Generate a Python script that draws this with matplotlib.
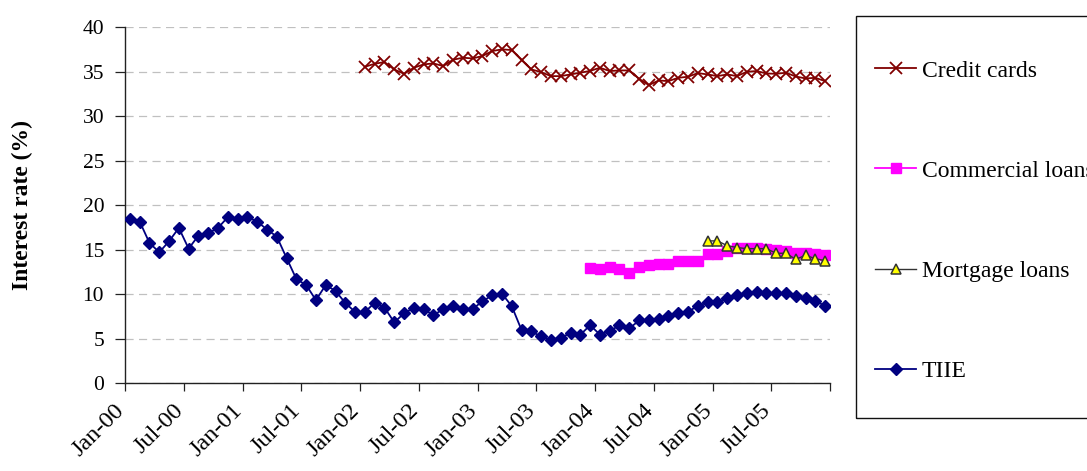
import matplotlib
matplotlib.use("Agg")
import matplotlib.pyplot as plt
from matplotlib.patches import Rectangle
from matplotlib.transforms import ScaledTranslation

plt.rcParams['font.family'] = ['Liberation Serif', 'DejaVu Serif']

# Monthly categories, Jan-2000 .. Dec-2005
month_names = ['Jan', 'Feb', 'Mar', 'Apr', 'May', 'Jun',
               'Jul', 'Aug', 'Sep', 'Oct', 'Nov', 'Dec']
years = ['00', '01', '02', '03', '04', '05']
months = [f"{m}-{y}" for y in years for m in month_names]

tick_labels = ['Jan-00', 'Jul-00', 'Jan-01', 'Jul-01', 'Jan-02', 'Jul-02',
               'Jan-03', 'Jul-03', 'Jan-04', 'Jul-04', 'Jan-05', 'Jul-05']

# Interest rates (%)
tiie = [18.46, 18.16, 15.75, 14.70, 15.94, 17.44, 15.11, 16.58, 16.84, 17.44,
        18.65, 18.46, 18.65, 18.16, 17.26, 16.47, 14.06, 11.69, 11.02, 9.32,
        11.02, 10.35, 9.00, 7.99, 7.99, 9.02, 8.48, 6.82, 7.84, 8.45,
        8.33, 7.61, 8.33, 8.64, 8.30, 8.30, 9.20, 9.85, 10.04, 8.64,
        5.95, 5.80, 5.23, 4.85, 5.10, 5.60, 5.42, 6.50, 5.45, 5.83,
        6.50, 6.13, 7.03, 7.03, 7.22, 7.48, 7.89, 8.00, 8.68, 9.06,
        9.06, 9.59, 9.89, 10.15, 10.26, 10.08, 10.08, 10.11, 9.74, 9.51,
        9.21, 8.68]

credit_start = 'Jan-02'
credit_cards = [35.56, 35.90, 36.09, 35.26, 34.77, 35.45, 35.83, 35.94, 35.64, 36.35,
                36.58, 36.50, 36.77, 37.33, 37.52, 37.44, 36.32, 35.26, 34.96, 34.51,
                34.51, 34.70, 34.89, 35.10, 35.45, 35.08, 35.15, 35.15, 34.21, 33.50,
                34.02, 33.95, 34.32, 34.44, 34.85, 34.70, 34.51, 34.70, 34.51, 35.00,
                35.08, 34.81, 34.77, 34.89, 34.47, 34.25, 34.32, 33.95]

commercial_start = 'Dec-03'
commercial_loans = [12.97, 12.86, 13.05, 12.86, 12.37, 13.05, 13.27, 13.42, 13.38, 13.76,
                    13.76, 13.76, 14.55, 14.55, 14.85, 15.15, 15.15, 15.15, 15.10, 14.92,
                    14.85, 14.66, 14.66, 14.51, 14.36]

mortgage_start = 'Dec-04'
mortgage_loans = [15.98, 15.98, 15.45, 15.23, 15.11, 15.11, 15.11, 14.59, 14.59, 13.91,
                  14.36, 13.98, 13.76]


def positions(start, values):
    i0 = months.index(start)
    return list(range(i0, i0 + len(values)))


W, H = 1087, 471
fig = plt.figure(figsize=(W / 100, H / 100), dpi=100)
ax = fig.add_axes([125 / W, 88 / H, (830 - 125) / W, (383 - 27.3) / H])

x_all = list(range(len(months)))
l_tiie, = ax.plot(x_all, tiie, color='#000080', lw=1.3, marker='D', ms=6.5,
                  mfc='#000080', mec='#000080', label='TIIE', zorder=3)
l_cc, = ax.plot(positions(credit_start, credit_cards), credit_cards, color='#800000',
                lw=1.3, marker='x', ms=8.5, mew=1.3, label='Credit cards', zorder=3)
l_com, = ax.plot(positions(commercial_start, commercial_loans), commercial_loans,
                 color='#FF00FF', lw=1.3, marker='s', ms=6.5, mfc='#FF00FF',
                 mec='#FF00FF', label='Commercial loans', zorder=3)
l_mort, = ax.plot(positions(mortgage_start, mortgage_loans), mortgage_loans,
                  color='#333333', lw=1.0, marker='^', ms=7.5, mfc='#FFFF00',
                  mec='#333333', mew=1.1, label='Mortgage loans', zorder=4)

ax.set_xlim(-0.5, len(months) - 0.5)
ax.set_ylim(0, 40)

# Horizontal dashed grid
ax.set_yticks(range(0, 41, 5))
ax.yaxis.grid(True, color='#c0c0c0', lw=0.9, linestyle=(0, (6.5, 4.3)))
ax.set_axisbelow(True)

for side in ('top', 'right'):
    ax.spines[side].set_visible(False)
for side in ('left', 'bottom'):
    ax.spines[side].set_color('#222222')
    ax.spines[side].set_linewidth(1.0)

ax.tick_params(axis='y', direction='out', length=7, width=0.9, color='#222222',
               pad=8, labelsize=15.5)

# Tick marks every six months, on the category boundaries
bounds = [-0.5 + 6 * k for k in range(len(tick_labels) + 1)]
ax.set_xticks(bounds)
ax.set_xticklabels(tick_labels + [''], rotation=45, ha='right',
                   rotation_mode='anchor', fontsize=17.5)
ax.tick_params(axis='x', direction='out', length=6, width=0.9, color='#222222', pad=6)
shift = ScaledTranslation(-0.11, 0, fig.dpi_scale_trans)
for lab in ax.get_xticklabels():
    lab.set_transform(lab.get_transform() + shift)

fig.text(22 / W, 1 - 205 / H, 'Interest rate (%)', rotation=90, ha='center',
         va='center', fontsize=17, fontweight='bold')

# Legend with its frame
fig.patches.append(Rectangle((855.7 / W, 1 - 417.7 / H), 0.5, (417.7 - 16) / H,
                             transform=fig.transFigure, fill=False,
                             edgecolor='#111111', lw=1.0))
fig.legend(handles=[l_cc, l_com, l_mort, l_tiie], loc='upper left',
           bbox_to_anchor=(875 / W, 1 - 60 / H), frameon=False, fontsize=17,
           numpoints=1, borderpad=0, borderaxespad=0, labelspacing=3.33,
           handlelength=1.74, handletextpad=0.25)

fig.savefig('out.png', dpi=100)
